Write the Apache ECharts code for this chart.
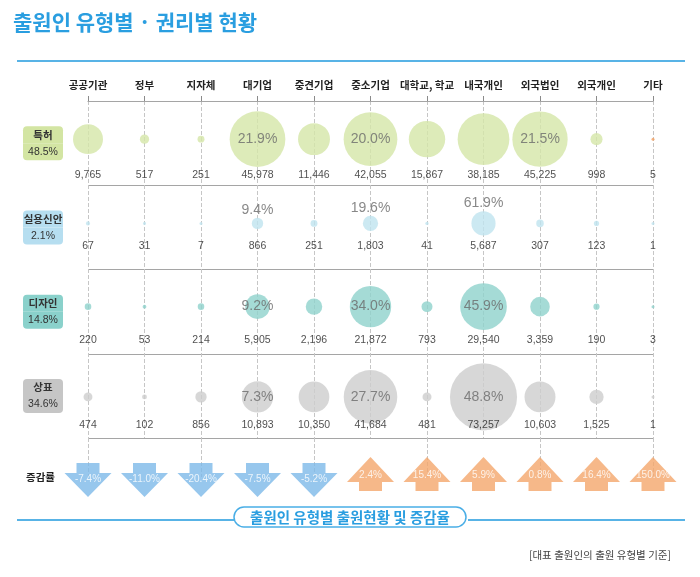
<!DOCTYPE html>
<html><head><meta charset="utf-8">
<script src="https://cdn.jsdelivr.net/npm/echarts@6/dist/echarts.min.js"></script>
<style>html,body{margin:0;padding:0;background:#fff}#c{width:700px;height:577px}</style>
</head><body><div id="c"></div>
<script>
// ---- data ----
const categories = ['공공기관','정부','지자체','대기업','중견기업','중소기업','대학교, 학교','내국개인','외국법인','외국개인','기타'];
const rightTypes = ['특허','실용신안','디자인','상표'];
const rightShare = [48.5, 2.1, 14.8, 34.6];
const patent    = [9765,517,251,45978,11446,42055,15867,38185,45225,998,5];
const utility   = [67,31,7,866,251,1803,41,5687,307,123,1];
const design    = [220,53,214,5905,2196,21872,793,29540,3359,190,3];
const trademark = [474,102,856,10893,10350,41684,481,73257,10603,1525,1];
const changeRate = [-7.4,-11.0,-20.4,-7.5,-5.2,2.4,15.4,5.9,0.8,16.4,150.0];
const changeLabel = '증감률';
const titleText = '출원인 유형별 · 권리별 현황';
const captionText = '출원인 유형별 출원현황 및 증감율';
const noteText = '[대표 출원인의 출원 유형별 기준]';

// ---- styling ----
const rows = [patent, utility, design, trademark];
const bubbleColors = ['#d5e6a8','#bfe3ef','#8fd2cc','#cdcdcd'];
const boxColors = ['#d3e5a3','#b6def0','#8ad1cb','#c6c6c6'];
const otherColor = '#f4a062';
const downColor = '#7db9e8', upColor = '#f4a66c';
const bubbleShift = [-4,-4,-5,1];
const valueShift = [32,19,28,29];
const numFont = "'Liberation Sans', Arial, sans-serif";
const krFont = "'Noto Sans CJK KR', sans-serif";

const rowTotals = rows.map(r => r.reduce((a,b)=>a+b,0));
const top3 = rows.map(r => r.map((v,i)=>[v,i]).sort((a,b)=>b[0]-a[0]).slice(0,3).map(d=>d[1]));

const rich = {};
rightTypes.forEach((n,i)=>{
  rich['t'+i] = {width:40,height:17,lineHeight:17,align:'center',verticalAlign:'bottom',backgroundColor:boxColors[i],borderRadius:[4,4,0,0],fontSize:10.5,fontWeight:'bold',color:'#333',fontFamily:krFont};
  rich['b'+i] = {width:40,height:17,lineHeight:17,align:'center',verticalAlign:'top',backgroundColor:boxColors[i],borderRadius:[0,0,4,4],fontSize:10.5,color:'#333',fontFamily:numFont};
});

const series = [];
rows.forEach((vals, r) => {
  series.push({
    type:'scatter', xAxisIndex:0, yAxisIndex:0, clip:false, silent:true, z:3,
    data: vals.map((v,i)=>({value:[i,r,v], itemStyle:{color:(r===0 && i===vals.length-1)?otherColor:bubbleColors[r]}})),
    symbolSize: d => Math.max(3, 0.76*Math.pow(d[2],0.4)),
    symbolOffset:[0,bubbleShift[r]],
    label:{show:true, position: r===1?'top':'inside', distance:1,
      formatter: p => top3[r].includes(p.dataIndex) ? (p.value[2]/rowTotals[r]*100).toFixed(1)+'%' : '',
      fontSize:14, color:'#6a6a6a', fontFamily:numFont}
  });
  series.push({
    type:'scatter', xAxisIndex:0, yAxisIndex:0, clip:false, silent:true, z:4,
    data: vals.map((v,i)=>[i,r,v]),
    symbolSize:1, itemStyle:{color:'rgba(0,0,0,0)'},
    label:{show:true, position:'inside', offset:[0,valueShift[r]],
      formatter: p => p.value[2].toLocaleString('en-US'),
      fontSize:10.5, color:'#1e1e1e', fontFamily:numFont}
  });
});

const downPath = 'path://M12,0 L35,0 L35,10 L47,10 L23.5,34 L0,10 L12,10 Z';
const upPath = 'path://M23.5,0 L47,25 L35,25 L35,34 L12,34 L12,25 L0,25 Z';
series.push({
  type:'scatter', xAxisIndex:1, yAxisIndex:1, clip:false, silent:true, z:5,
  symbolSize:[47,34],
  data: changeRate.map((v,i)=>({
    value:[i,0,v],
    symbol: v<0?downPath:upPath,
    symbolOffset:[0, v<0?3:-3],
    itemStyle:{color: v<0?downColor:upColor},
    label:{offset:[0, v<0?-1:1]}
  })),
  label:{show:true, position:'inside', color:'#fff', fontSize:10, fontFamily:numFont,
    formatter: p => p.value[2].toFixed(1)+'%'}
});

const chart = echarts.init(document.getElementById('c'));
chart.setOption({
  animation:false,
  backgroundColor:'#fff',
  textStyle:{fontFamily:krFont},
  title:[
    {text:titleText, left:8, top:7, textStyle:{fontSize:21, fontWeight:'bold', color:'#2a9ee0', fontFamily:krFont}},
    {text:captionText, left:'center', top:507, padding:[3,16], borderColor:'#4aaee6', borderWidth:1.5, borderRadius:12, backgroundColor:'#fff',
      textStyle:{fontSize:14.5, fontWeight:'bold', color:'#2a9ee0', fontFamily:krFont}},
    {text:noteText, right:24, top:545, textStyle:{fontSize:10.5, fontWeight:'normal', color:'#444', fontFamily:krFont}}
  ],
  graphic:[
    {type:'line', shape:{x1:17,y1:61,x2:685,y2:61}, style:{stroke:'#58b3e6', lineWidth:2}, z:0},
    {type:'line', shape:{x1:17,y1:520,x2:234,y2:520}, style:{stroke:'#58b3e6', lineWidth:2}, z:0},
    {type:'line', shape:{x1:468,y1:520,x2:685,y2:520}, style:{stroke:'#58b3e6', lineWidth:2}, z:0}
  ],
  grid:[
    {left:88, right:47, top:101, height:337},
    {left:88, right:47, top:438, height:39}
  ],
  xAxis:[
    {type:'category', gridIndex:0, data:categories, position:'top', boundaryGap:false,
      axisLine:{lineStyle:{color:'#a5a5a5', width:1.2}},
      axisTick:{show:true, length:5, lineStyle:{color:'#8a8a8a'}},
      axisLabel:{interval:0, margin:11, fontSize:10.5, fontWeight:'bold', color:'#222', fontFamily:krFont},
      splitLine:{show:true, lineStyle:{type:'dashed', color:'#c6c6c6', width:1}}},
    {type:'category', gridIndex:1, data:categories, boundaryGap:false,
      axisLine:{show:false}, axisTick:{show:false}, axisLabel:{show:false},
      splitLine:{show:true, lineStyle:{type:'dashed', color:'#c6c6c6', width:1}}}
  ],
  yAxis:[
    {type:'category', gridIndex:0, data:rightTypes, inverse:true, boundaryGap:true,
      axisLine:{show:false}, axisTick:{show:false},
      splitLine:{show:true, lineStyle:{color:'#a5a5a5', width:1.2}},
      axisLabel:{margin:25, formatter:(v,i)=>`{t${i}|${v}}\n{b${i}|${rightShare[i].toFixed(1)}%}`, rich:rich}},
    {type:'value', gridIndex:1, min:0, max:1, interval:1,
      axisLine:{show:false}, axisTick:{show:false}, splitLine:{show:false},
      axisLabel:{margin:33, formatter:v=> v===0?changeLabel:'', fontSize:10.5, fontWeight:'bold', color:'#222', fontFamily:krFont}}
  ],
  series:series
});
</script></body></html>
